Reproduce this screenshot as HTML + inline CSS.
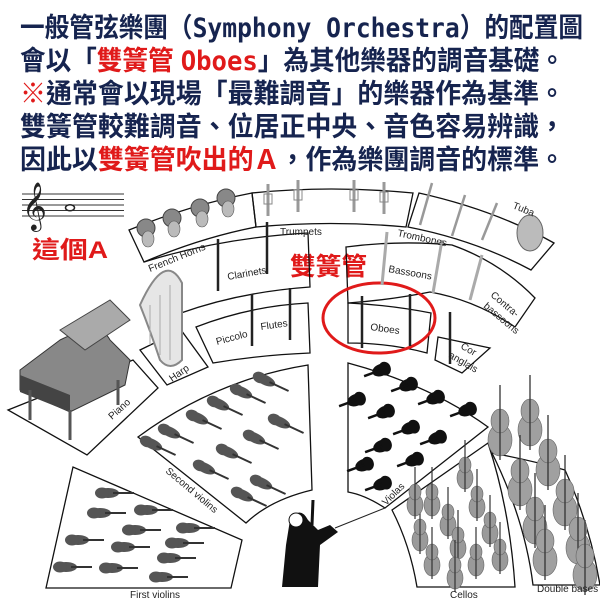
<!DOCTYPE html>
<html><head><meta charset="utf-8"><style>
html,body{margin:0;padding:0;background:#fff;width:600px;height:600px;overflow:hidden}
svg{display:block}
.t{font-family:"Liberation Sans","Noto Sans CJK TC",sans-serif;font-weight:bold;font-size:27px;fill:#16244f}
.m{font-family:"DejaVu Sans Mono","Liberation Mono",monospace;font-weight:bold}
.r{fill:#e01a1a}
.l{font-family:"Liberation Sans",sans-serif;font-size:10px;fill:#222}
.b{fill:none;stroke:#111;stroke-width:1.3}
</style></head><body>
<svg width="600" height="600" viewBox="0 0 600 600">
<defs>
<g id="vn"><ellipse cx="0" cy="0" rx="11" ry="5" fill="#555"/><ellipse cx="-6" cy="0" rx="7" ry="5.5" fill="#555"/><line x1="5" y1="0" x2="26" y2="0" stroke="#333" stroke-width="2"/></g>
<g id="va"><ellipse cx="0" cy="0" rx="9" ry="6" fill="#111"/><ellipse cx="4" cy="0" rx="6" ry="7" fill="#111"/><line x1="-18" y1="0" x2="0" y2="0" stroke="#111" stroke-width="2.5"/></g>
<g id="ce"><ellipse cx="0" cy="0" rx="8" ry="11" fill="#9a9a9a" stroke="#666" stroke-width=".6"/><ellipse cx="0" cy="-13" rx="6" ry="8" fill="#9a9a9a" stroke="#666" stroke-width=".6"/><line x1="0" y1="-38" x2="0" y2="14" stroke="#333" stroke-width="1.2"/></g>
<g id="db"><ellipse cx="0" cy="0" rx="12" ry="16" fill="#a0a0a0" stroke="#666" stroke-width=".6"/><ellipse cx="0" cy="-19" rx="9" ry="12" fill="#a0a0a0" stroke="#666" stroke-width=".6"/><line x1="0" y1="-55" x2="0" y2="20" stroke="#333" stroke-width="1.3"/></g>
<g id="hn"><circle cx="0" cy="0" r="9" fill="#888" stroke="#444"/><ellipse cx="2" cy="11" rx="6" ry="8" fill="#bbb" stroke="#555" stroke-width=".6"/></g>
<g id="tp"><line x1="0" y1="-16" x2="0" y2="16" stroke="#999" stroke-width="3"/><rect x="-4" y="-6" width="8" height="10" fill="none" stroke="#888"/></g>
<g id="cl"><line x1="0" y1="-26" x2="0" y2="26" stroke="#222" stroke-width="2.5"/></g>
</defs>

<text class="t" x="20" y="37" textLength="563" lengthAdjust="spacingAndGlyphs">一般管弦樂團（<tspan class="m">Symphony Orchestra</tspan>）的配置圖</text>
<text class="t" x="20" y="70" textLength="545" lengthAdjust="spacingAndGlyphs">會以「<tspan class="r">雙簧管 </tspan><tspan class="r m">Oboes</tspan>」為其他樂器的調音基礎。</text>
<text class="t" x="20" y="103" textLength="545" lengthAdjust="spacingAndGlyphs"><tspan class="r">※</tspan>通常會以現場「最難調音」的樂器作為基準。</text>
<text class="t" x="20" y="136" textLength="545" lengthAdjust="spacingAndGlyphs">雙簧管較難調音、位居正中央、音色容易辨識，</text>
<text class="t" x="20" y="169" textLength="545" lengthAdjust="spacingAndGlyphs">因此以<tspan class="r">雙簧管吹出的Ａ</tspan>，作為樂團調音的標準。</text>

<g stroke="#333" stroke-width="1"><line x1="22" y1="194" x2="124" y2="194"/><line x1="22" y1="199.5" x2="124" y2="199.5"/><line x1="22" y1="205" x2="124" y2="205"/><line x1="22" y1="210.5" x2="124" y2="210.5"/><line x1="22" y1="216" x2="124" y2="216"/></g>
<text x="22" y="220" font-size="42" font-family="DejaVu Sans,sans-serif" fill="#222">𝄞</text>
<ellipse cx="70" cy="207.7" rx="4.5" ry="3" fill="none" stroke="#222" stroke-width="1.5"/>
<text x="32" y="258" font-family="Liberation Sans,'Noto Sans CJK TC',sans-serif" font-weight="bold" font-size="24" fill="#e01a1a" textLength="76" lengthAdjust="spacingAndGlyphs">這個A</text>
<text x="290" y="275" font-family="Liberation Sans,'Noto Sans CJK TC',sans-serif" font-weight="bold" font-size="25" fill="#e01a1a" textLength="77" lengthAdjust="spacingAndGlyphs">雙簧管</text>

<path class="b" d="M129,230 Q190,205 252,193 L256,227 Q200,238 144,262 Z"/>
<path class="b" d="M252,193 Q330,185 413,193 L406,227 Q330,220 256,227 Z"/>
<path class="b" d="M419,193 Q495,210 554,243 L531,270 Q475,240 408,227 Z"/>
<path class="b" d="M144,262 Q220,238 308,233 L310,287 Q240,292 181,313"/>
<path class="b" d="M346,247 Q400,240 452,245 Q500,262 535,298 L515,327 Q475,300 430,292 Q390,300 348,303 Z"/>
<path class="b" d="M196,327 Q250,306 308,303 L310,353 Q260,355 213,363 Z"/>
<path class="b" d="M348,303 Q390,305 431,313 L427,353 Q390,343 348,343 Z"/>
<path class="b" d="M438,337 L490,348 L462,373 L435,360 Z"/>
<path class="b" d="M140,350 L181,330 L208,367 L167,385 Z"/>
<path class="b" d="M8,410 L133,360 L158,388 L87,455 Z"/>
<path class="b" d="M138,437 Q215,380 308,365 L312,490 Q270,500 246,523 Z"/>
<path class="b" d="M46,588 L73,467 L242,540 L231,588 Z"/>
<path class="b" d="M348,363 Q430,385 488,427 L385,508 Q365,495 348,492 Z"/>
<path class="b" d="M392,510 L488,443 Q510,510 515,587 L417,587 Q410,545 392,510 Z"/>
<path class="b" d="M492,453 Q530,460 565,470 Q590,525 600,585 L533,585 Q525,520 492,453 Z"/>

<ellipse cx="379" cy="318" rx="56" ry="35" fill="none" stroke="#e01a1a" stroke-width="3"/>

<use href="#hn" x="146" y="228"/><use href="#hn" x="172" y="218"/><use href="#hn" x="200" y="208"/><use href="#hn" x="226" y="198"/>
<use href="#tp" x="268" y="200"/><use href="#tp" x="298" y="196"/><use href="#tp" x="354" y="196"/><use href="#tp" x="384" y="198"/>
<g stroke="#999" stroke-width="2.5"><line x1="432" y1="183" x2="420" y2="225"/><line x1="465" y1="195" x2="452" y2="236"/><line x1="497" y1="203" x2="482" y2="240"/></g>
<ellipse cx="530" cy="233" rx="13" ry="18" fill="#bbb" stroke="#666"/>
<use href="#cl" x="218" y="265"/><use href="#cl" x="267" y="248"/><use href="#cl" x="252" y="320"/><use href="#cl" x="290" y="314"/>
<use href="#cl" x="362" y="322"/><use href="#cl" x="410" y="320"/><use href="#cl" x="450" y="338"/>
<g stroke="#aaa" stroke-width="3"><line x1="387" y1="232" x2="382" y2="285"/><line x1="442" y1="240" x2="433" y2="293"/><line x1="482" y1="255" x2="470" y2="300"/></g>
<path d="M140,305 Q165,250 182,283 L182,360 Q170,372 160,360 Q150,330 140,305 Z" fill="#e6e6e6" stroke="#888" stroke-width="2"/>
<g stroke="#aaa"><line x1="150" y1="305" x2="150" y2="345"/><line x1="160" y1="295" x2="160" y2="355"/><line x1="170" y1="285" x2="170" y2="360"/></g>
<path d="M20,370 L60,340 Q100,320 110,340 L130,360 L125,385 L70,412 L20,390 Z" fill="#888" stroke="#333"/>
<path d="M20,375 L70,395 L70,412 L20,392 Z" fill="#444"/>
<path d="M60,330 L110,300 L130,320 L85,350 Z" fill="#aaa" stroke="#444"/>
<g stroke="#555" stroke-width="3"><line x1="30" y1="390" x2="30" y2="420"/><line x1="70" y1="410" x2="70" y2="440"/><line x1="118" y1="380" x2="118" y2="405"/></g>

<g>
<use href="#vn" x="108" y="493"/><use href="#vn" x="100" y="513"/><use href="#vn" x="147" y="510"/><use href="#vn" x="135" y="530"/><use href="#vn" x="189" y="528"/><use href="#vn" x="78" y="540"/><use href="#vn" x="124" y="547"/><use href="#vn" x="178" y="543"/><use href="#vn" x="170" y="558"/><use href="#vn" x="66" y="567"/><use href="#vn" x="112" y="568"/><use href="#vn" x="162" y="577"/>
</g>
<g>
<use href="#vn" transform="translate(265,380) rotate(25)"/><use href="#vn" transform="translate(242,392) rotate(25)"/><use href="#vn" transform="translate(219,404) rotate(25)"/><use href="#vn" transform="translate(198,418) rotate(25)"/><use href="#vn" transform="translate(170,432) rotate(25)"/><use href="#vn" transform="translate(152,444) rotate(25)"/><use href="#vn" transform="translate(280,422) rotate(25)"/><use href="#vn" transform="translate(255,438) rotate(25)"/><use href="#vn" transform="translate(228,452) rotate(25)"/><use href="#vn" transform="translate(205,468) rotate(25)"/><use href="#vn" transform="translate(262,483) rotate(25)"/><use href="#vn" transform="translate(243,495) rotate(25)"/>
</g>
<g>
<use href="#va" transform="translate(381,370) rotate(-20)"/><use href="#va" transform="translate(408,385) rotate(-20)"/><use href="#va" transform="translate(356,400) rotate(-20)"/><use href="#va" transform="translate(435,398) rotate(-20)"/><use href="#va" transform="translate(385,412) rotate(-20)"/><use href="#va" transform="translate(467,410) rotate(-20)"/><use href="#va" transform="translate(410,428) rotate(-20)"/><use href="#va" transform="translate(382,446) rotate(-20)"/><use href="#va" transform="translate(437,438) rotate(-20)"/><use href="#va" transform="translate(364,465) rotate(-20)"/><use href="#va" transform="translate(414,460) rotate(-20)"/><use href="#va" transform="translate(382,484) rotate(-20)"/>
</g>
<g>
<use href="#ce" x="465" y="478"/><use href="#ce" x="432" y="505"/><use href="#ce" x="477" y="507"/><use href="#ce" x="448" y="525"/><use href="#ce" x="420" y="540"/><use href="#ce" x="490" y="533"/><use href="#ce" x="458" y="548"/><use href="#ce" x="432" y="565"/><use href="#ce" x="476" y="565"/><use href="#ce" x="500" y="560"/><use href="#ce" x="455" y="578"/><use href="#ce" x="415" y="505"/>
</g>
<g>
<use href="#db" x="500" y="440"/><use href="#db" x="530" y="430"/><use href="#db" x="548" y="470"/><use href="#db" x="520" y="490"/><use href="#db" x="565" y="510"/><use href="#db" x="535" y="528"/><use href="#db" x="578" y="548"/><use href="#db" x="545" y="560"/><use href="#db" x="585" y="575"/>
</g>
<path d="M290,520 Q300,505 308,520 L318,530 L330,525 L338,532 L320,545 L318,587 L282,587 L286,545 Z" fill="#111"/>
<circle cx="296" cy="520" r="7" fill="#fff" stroke="#111"/>
<line x1="335" y1="528" x2="385" y2="508" stroke="#222" stroke-width="1"/>
<line x1="312" y1="525" x2="313" y2="500" stroke="#111" stroke-width="3"/>

<g class="l">
<text class="l" transform="translate(150,272) rotate(-22)">French Horns</text>
<text class="l" x="280" y="235">Trumpets</text>
<text class="l" transform="translate(397,236) rotate(12)">Trombones</text>
<text class="l" transform="translate(512,208) rotate(22)">Tuba</text>
<text class="l" transform="translate(228,280) rotate(-10)">Clarinets</text>
<text class="l" transform="translate(388,272) rotate(10)">Bassoons</text>
<text class="l" transform="translate(490,296) rotate(40)">Contra-</text>
<text class="l" transform="translate(483,307) rotate(40)">bassoons</text>
<text class="l" transform="translate(217,345) rotate(-15)">Piccolo</text>
<text class="l" transform="translate(261,330) rotate(-8)">Flutes</text>
<text class="l" transform="translate(370,330) rotate(8)">Oboes</text>
<text class="l" transform="translate(460,348) rotate(30)">Cor</text>
<text class="l" transform="translate(448,357) rotate(30)">anglais</text>
<text class="l" transform="translate(172,382) rotate(-35)">Harp</text>
<text class="l" transform="translate(112,420) rotate(-42)">Piano</text>
<text class="l" transform="translate(165,472) rotate(40)">Second violins</text>
<text class="l" transform="translate(386,506) rotate(-45)">Violas</text>
<text class="l" x="130" y="598">First violins</text>
<text class="l" x="450" y="598">Cellos</text>
<text class="l" x="537" y="592">Double bases</text>
</g>
</svg>
</body></html>
